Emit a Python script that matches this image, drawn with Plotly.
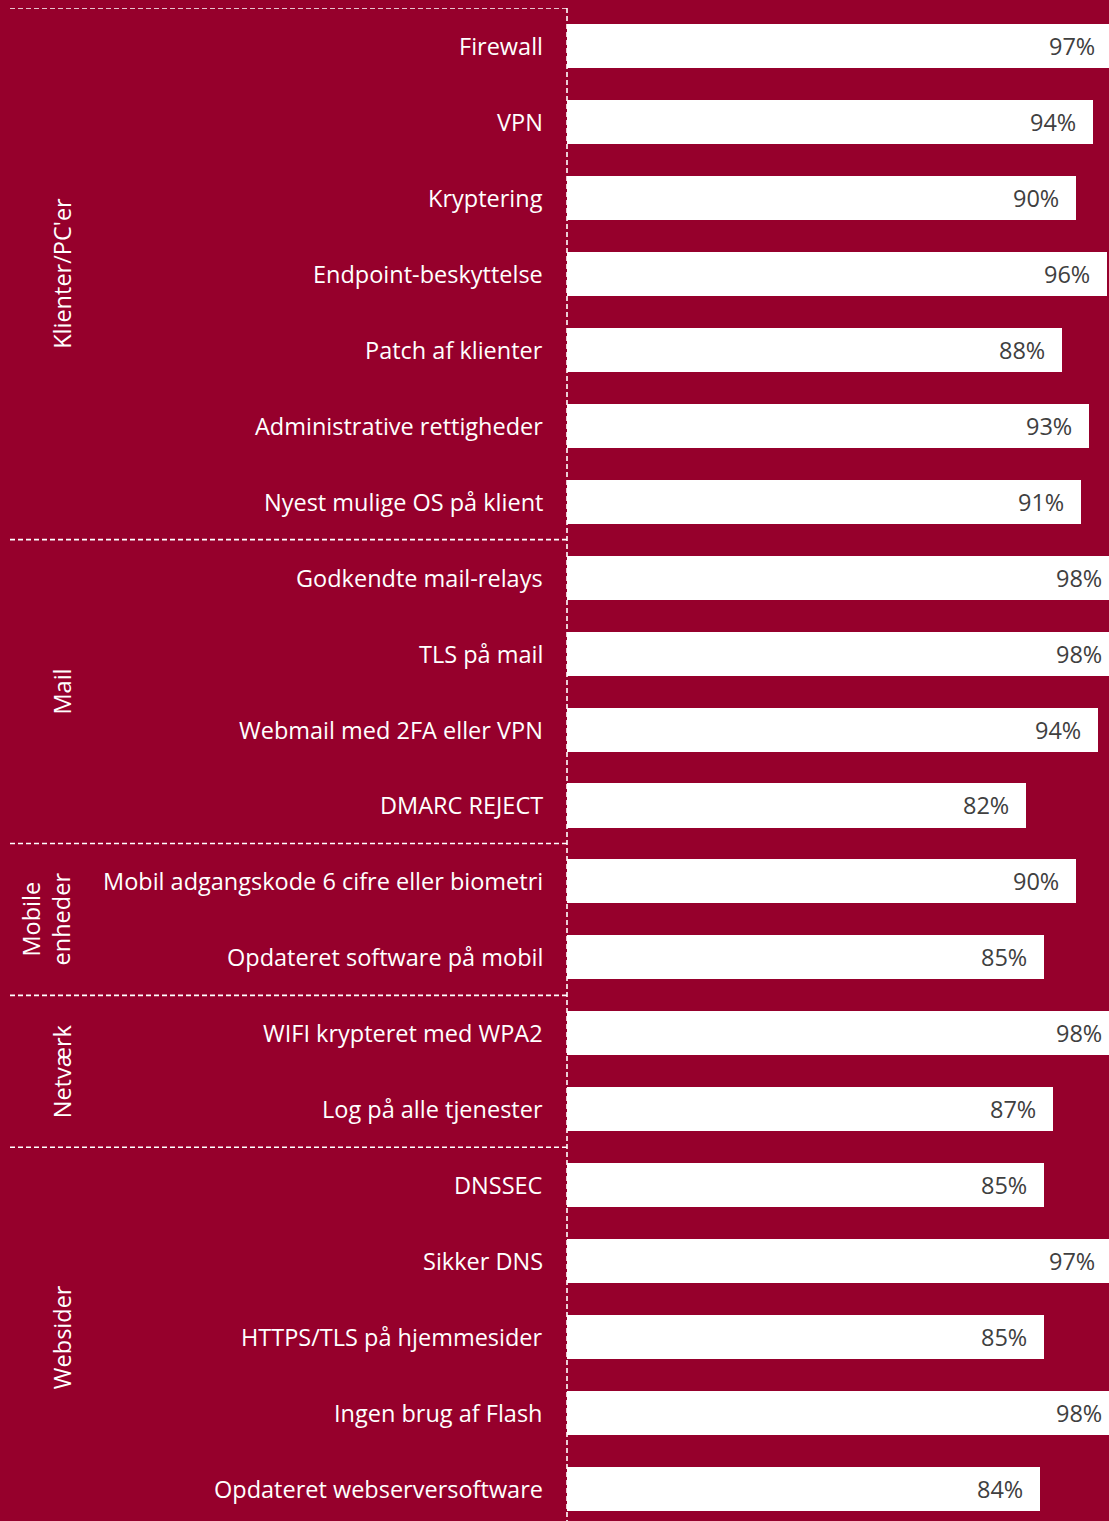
import plotly.graph_objects as go

categories = [
    "Firewall", "VPN", "Kryptering", "Endpoint-beskyttelse", "Patch af klienter",
    "Administrative rettigheder", "Nyest mulige OS på klient",
    "Godkendte mail-relays", "TLS på mail", "Webmail med 2FA eller VPN", "DMARC REJECT",
    "Mobil adgangskode 6 cifre eller biometri", "Opdateret software på mobil",
    "WIFI krypteret med WPA2", "Log på alle tjenester",
    "DNSSEC", "Sikker DNS", "HTTPS/TLS på hjemmesider", "Ingen brug af Flash",
    "Opdateret webserversoftware",
]
values = [97.0, 93.6, 90.6, 96.1, 88.1, 92.9, 91.5,
          98.3, 98.3, 94.5, 81.7,
          90.6, 84.9,
          98.3, 86.5,
          84.9, 97.0, 84.9, 98.3, 84.2]
value_labels = ["97%", "94%", "90%", "96%", "88%", "93%", "91%",
                "98%", "98%", "94%", "82%",
                "90%", "85%",
                "98%", "87%",
                "85%", "97%", "85%", "98%", "84%"]
groups = ["Klienter/PC'er", "Mail", "Mobile<br>enheder", "Netværk", "Websider"]
group_sizes = [7, 4, 2, 2, 5]

BG = "#96002C"
W, H = 1109, 1521
ML, MT = 567, 8
PW = W - ML
PITCH = 75.95
XMAX = PW / 5.62
YMAX = -0.5 + (H - MT) / PITCH
FS = 23.5

ypos = list(range(len(categories)))

fig = go.Figure()
fig.add_trace(go.Bar(
    x=values, y=ypos, orientation="h", width=0.58,
    marker=dict(color="white", line=dict(width=0)),
    hoverinfo="skip", showlegend=False,
))

annotations = []
for i, (c, v, lab) in enumerate(zip(categories, values, value_labels)):
    annotations.append(dict(
        x=0, xref="paper", y=i, yref="y", text=c, showarrow=False,
        xanchor="right", yanchor="middle", xshift=-22,
        font=dict(family="Open Sans", size=FS, color="white"),
    ))
    annotations.append(dict(
        x=v / XMAX, xref="paper", y=i, yref="y", text=lab, showarrow=False,
        xanchor="right", yanchor="middle", xshift=-15,
        font=dict(family="Open Sans", size=FS, color="#404040"),
    ))

shapes = []
start = 0
bounds = [-0.5]
centers = []
for g, n in zip(groups, group_sizes):
    centers.append(start + (n - 1) / 2)
    start += n
    bounds.append(start - 0.5)

x_left = (10 - ML) / PW
for b in bounds[:-1]:
    shapes.append(dict(type="line", xref="paper", yref="y", x0=x_left, x1=0, y0=b, y1=b,
                       line=dict(color="white", width=1.6, dash="5px,3px")))
shapes.append(dict(type="line", xref="paper", yref="y", x0=0, x1=0, y0=-0.5, y1=YMAX,
                   line=dict(color="white", width=1.6, dash="5px,3px")))

for g, cy in zip(groups, centers):
    xc = 62 if "<br>" not in g else 46
    annotations.append(dict(
        x=(xc - ML) / PW, xref="paper", y=cy, yref="y", text=g, showarrow=False,
        textangle=-90, xanchor="center", yanchor="middle",
        font=dict(family="Open Sans", size=FS, color="white"),
    ))

fig.update_layout(
    width=W, height=H,
    margin=dict(l=ML, r=0, t=MT, b=0, pad=0),
    paper_bgcolor=BG, plot_bgcolor=BG,
    xaxis=dict(range=[0, XMAX], visible=False, fixedrange=True),
    yaxis=dict(range=[YMAX, -0.5], visible=False, fixedrange=True),
    bargap=0,
    annotations=annotations,
    shapes=shapes,
)

fig.write_html("out.html")
